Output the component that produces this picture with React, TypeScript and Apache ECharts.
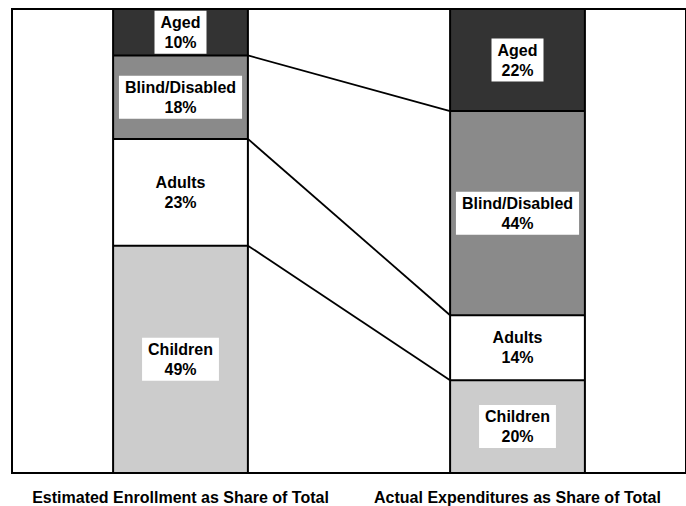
import React, { useEffect, useRef } from "react";
import * as echarts from "echarts";

const categories = [
  "Estimated Enrollment as Share of Total",
  "Actual Expenditures as Share of Total",
];
const groupNames = ["Children", "Adults", "Blind/Disabled", "Aged"];
const enrollment = [49, 23, 18, 10];
const expenditures = [20, 14, 44, 22];
const groupColors = ["#cccccc", "#ffffff", "#8a8a8a", "#333333"];

const FONT = "'Liberation Sans', Arial, Helvetica, sans-serif";
const BAR_RATIO = 0.4;

export default function App() {
  const ref = useRef<HTMLDivElement>(null);

  useEffect(() => {
    if (!ref.current) return;
    const chart = echarts.init(ref.current, undefined, { renderer: "svg" });

    const barSeries = groupNames.map((name, i) => ({
      name,
      type: "bar",
      stack: "total",
      barWidth: `${BAR_RATIO * 100}%`,
      data: [enrollment[i], expenditures[i]],
      itemStyle: { color: groupColors[i], borderWidth: 0 },
      label: {
        show: true,
        position: "inside",
        formatter: "{a}\n{c}%",
        backgroundColor: "#ffffff",
        padding: [2, 6, 1, 6],
        color: "#000",
        fontWeight: "bold",
        fontSize: 16,
        lineHeight: 20,
        fontFamily: FONT,
      },
    }));

    // cumulative boundaries between stacked segments
    const connectors: number[][] = [];
    let c1 = 0;
    let c2 = 0;
    for (let i = 0; i < groupNames.length - 1; i++) {
      c1 += enrollment[i];
      c2 += expenditures[i];
      connectors.push([0, c1, c2]);
    }
    const totals = [
      [0, enrollment.reduce((a, b) => a + b, 0)],
      [1, expenditures.reduce((a, b) => a + b, 0)],
    ];

    const option = {
      animation: false,
      grid: {
        left: 12,
        right: -4,
        top: 9,
        bottom: 33,
        show: true,
        borderColor: "#000",
        borderWidth: 2,
        backgroundColor: "transparent",
      },
      xAxis: {
        type: "category",
        data: categories,
        axisLine: { show: false },
        axisTick: { show: false },
        splitLine: { show: false },
        axisLabel: {
          color: "#000",
          fontWeight: "bold",
          fontSize: 16,
          lineHeight: 18,
          margin: 15,
          fontFamily: FONT,
          interval: 0,
        },
      },
      yAxis: {
        type: "value",
        min: 0,
        max: 100,
        show: false,
        splitLine: { show: false },
      },
      series: [
        ...barSeries,
        {
          type: "custom",
          name: "outlines",
          encode: { x: 0, y: 1 },
          data: totals,
          z: 5,
          silent: true,
          renderItem: (params: any, api: any) => {
            const top = api.coord([api.value(0), api.value(1)]);
            const bottom = api.coord([api.value(0), 0]);
            const w = api.size([1, 0])[0] * BAR_RATIO;
            return {
              type: "rect",
              shape: { x: top[0] - w / 2, y: top[1], width: w, height: bottom[1] - top[1] },
              style: { fill: "none", stroke: "#000", lineWidth: 2 },
            };
          },
        },
        {
          type: "custom",
          name: "connectors",
          encode: { x: 0, y: [1, 2] },
          data: connectors,
          z: 5,
          silent: true,
          renderItem: (params: any, api: any) => {
            const p1 = api.coord([0, api.value(1)]);
            const p2 = api.coord([1, api.value(2)]);
            const half = (api.size([1, 0])[0] * BAR_RATIO) / 2;
            const st = { stroke: "#000", lineWidth: 2 };
            return {
              type: "group",
              children: [
                {
                  type: "line",
                  shape: { x1: p1[0] - half, y1: p1[1], x2: p1[0] + half, y2: p1[1] },
                  style: st,
                },
                {
                  type: "line",
                  shape: { x1: p2[0] - half, y1: p2[1], x2: p2[0] + half, y2: p2[1] },
                  style: st,
                },
                {
                  type: "line",
                  shape: { x1: p1[0] + half, y1: p1[1], x2: p2[0] - half, y2: p2[1] },
                  style: { stroke: "#000", lineWidth: 1.8 },
                },
              ],
            };
          },
        },
      ],
    };

    chart.setOption(option as any);
    return () => chart.dispose();
  }, []);

  return (
    <div
      ref={ref}
      style={{ position: "absolute", left: 0, top: 0, width: 686, height: 506, background: "#fff" }}
    />
  );
}
